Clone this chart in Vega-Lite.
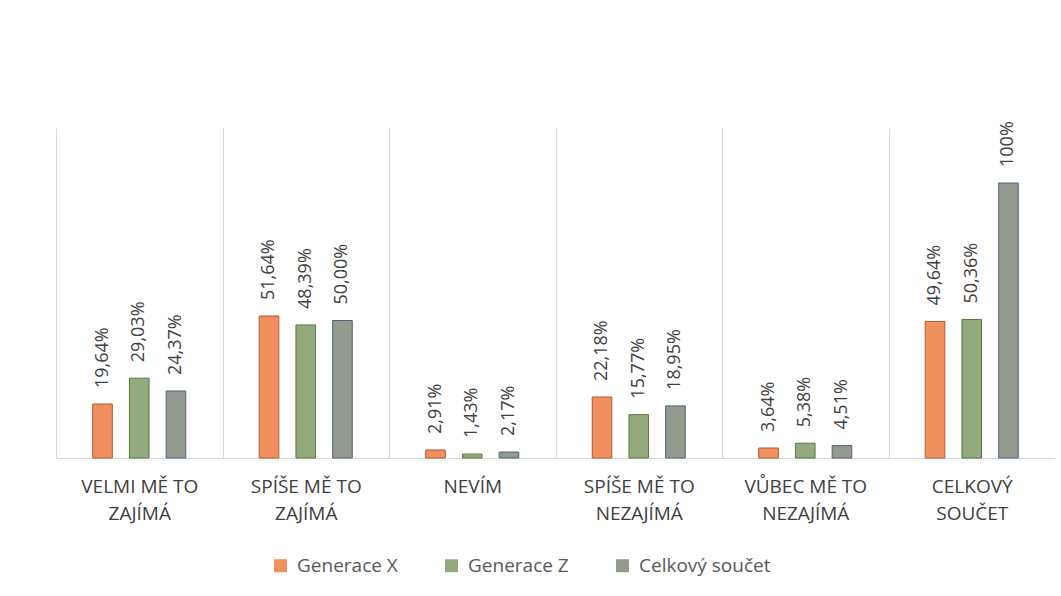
{
  "$schema": "https://vega.github.io/schema/vega-lite/v6.json",
  "width": 999,
  "height": 330,
  "padding": {"left": 56, "top": 121, "right": 0, "bottom": 0},
  "background": "white",
  "config": {"view": {"stroke": null}, "font": "Open Sans"},
  "data": {
    "values": [
      {"kategorie": "VELMI MĚ TO ZAJÍMÁ", "serie": "Generace X", "hodnota": 0.1964, "label": "19,64%"},
      {"kategorie": "VELMI MĚ TO ZAJÍMÁ", "serie": "Generace Z", "hodnota": 0.2903, "label": "29,03%"},
      {"kategorie": "VELMI MĚ TO ZAJÍMÁ", "serie": "Celkový součet", "hodnota": 0.2437, "label": "24,37%"},
      {"kategorie": "SPÍŠE MĚ TO ZAJÍMÁ", "serie": "Generace X", "hodnota": 0.5164, "label": "51,64%"},
      {"kategorie": "SPÍŠE MĚ TO ZAJÍMÁ", "serie": "Generace Z", "hodnota": 0.4839, "label": "48,39%"},
      {"kategorie": "SPÍŠE MĚ TO ZAJÍMÁ", "serie": "Celkový součet", "hodnota": 0.5, "label": "50,00%"},
      {"kategorie": "NEVÍM", "serie": "Generace X", "hodnota": 0.0291, "label": "2,91%"},
      {"kategorie": "NEVÍM", "serie": "Generace Z", "hodnota": 0.0143, "label": "1,43%"},
      {"kategorie": "NEVÍM", "serie": "Celkový součet", "hodnota": 0.0217, "label": "2,17%"},
      {"kategorie": "SPÍŠE MĚ TO NEZAJÍMÁ", "serie": "Generace X", "hodnota": 0.2218, "label": "22,18%"},
      {"kategorie": "SPÍŠE MĚ TO NEZAJÍMÁ", "serie": "Generace Z", "hodnota": 0.1577, "label": "15,77%"},
      {"kategorie": "SPÍŠE MĚ TO NEZAJÍMÁ", "serie": "Celkový součet", "hodnota": 0.1895, "label": "18,95%"},
      {"kategorie": "VŮBEC MĚ TO NEZAJÍMÁ", "serie": "Generace X", "hodnota": 0.0364, "label": "3,64%"},
      {"kategorie": "VŮBEC MĚ TO NEZAJÍMÁ", "serie": "Generace Z", "hodnota": 0.0538, "label": "5,38%"},
      {"kategorie": "VŮBEC MĚ TO NEZAJÍMÁ", "serie": "Celkový součet", "hodnota": 0.0451, "label": "4,51%"},
      {"kategorie": "CELKOVÝ SOUČET", "serie": "Generace X", "hodnota": 0.4964, "label": "49,64%"},
      {"kategorie": "CELKOVÝ SOUČET", "serie": "Generace Z", "hodnota": 0.5036, "label": "50,36%"},
      {"kategorie": "CELKOVÝ SOUČET", "serie": "Celkový součet", "hodnota": 1.0, "label": "100%"}
    ]
  },
  "encoding": {
    "x": {
      "field": "kategorie",
      "type": "nominal",
      "sort": null,
      "scale": {"paddingInner": 0, "paddingOuter": 0},
      "axis": {
        "title": null,
        "labelAngle": 0,
        "ticks": false,
        "tickBand": "extent",
        "grid": true,
        "gridColor": "#d9d9d9",
        "domainColor": "#d9d9d9",
        "labelFontSize": 19,
        "labelColor": "#404040",
        "labelPadding": 19,
        "labelLineHeight": 27,
        "labelLimit": 0,
        "labelExpr": "isString(datum.value) && indexof(datum.value, ' ') >= 0 ? [substring(datum.value, 0, lastindexof(datum.value, ' ')), substring(datum.value, lastindexof(datum.value, ' ') + 1)] : datum.label"
      }
    },
    "xOffset": {
      "field": "serie",
      "type": "nominal",
      "sort": ["Generace X", "Generace Z", "Celkový součet"],
      "scale": {"paddingInner": 0.466, "paddingOuter": 1.2}
    },
    "y": {
      "field": "hodnota",
      "type": "quantitative",
      "scale": {"domain": [0, 1.2], "nice": false},
      "axis": null
    }
  },
  "layer": [
    {
      "mark": {"type": "bar", "strokeWidth": 1},
      "encoding": {
        "color": {
          "field": "serie",
          "type": "nominal",
          "sort": ["Generace X", "Generace Z", "Celkový součet"],
          "scale": {"range": ["#F0905F", "#93AA7E", "#939A8E"]},
          "legend": {
            "title": null,
            "orient": "none",
            "legendX": 215,
            "legendY": 428,
            "direction": "horizontal",
            "symbolType": "square",
            "symbolSize": 169,
            "labelFontSize": 19,
            "labelColor": "#595959",
            "labelOffset": 7,
            "columnPadding": 44
          }
        },
        "stroke": {
          "field": "serie",
          "type": "nominal",
          "sort": ["Generace X", "Generace Z", "Celkový součet"],
          "scale": {"range": ["#B8582C", "#557A3C", "#52627A"]},
          "legend": null
        }
      }
    },
    {
      "mark": {"type": "text", "angle": 270, "align": "left", "baseline": "middle", "dx": 16, "fontSize": 18, "color": "#404040"},
      "encoding": {"text": {"field": "label", "type": "nominal"}}
    }
  ]
}
